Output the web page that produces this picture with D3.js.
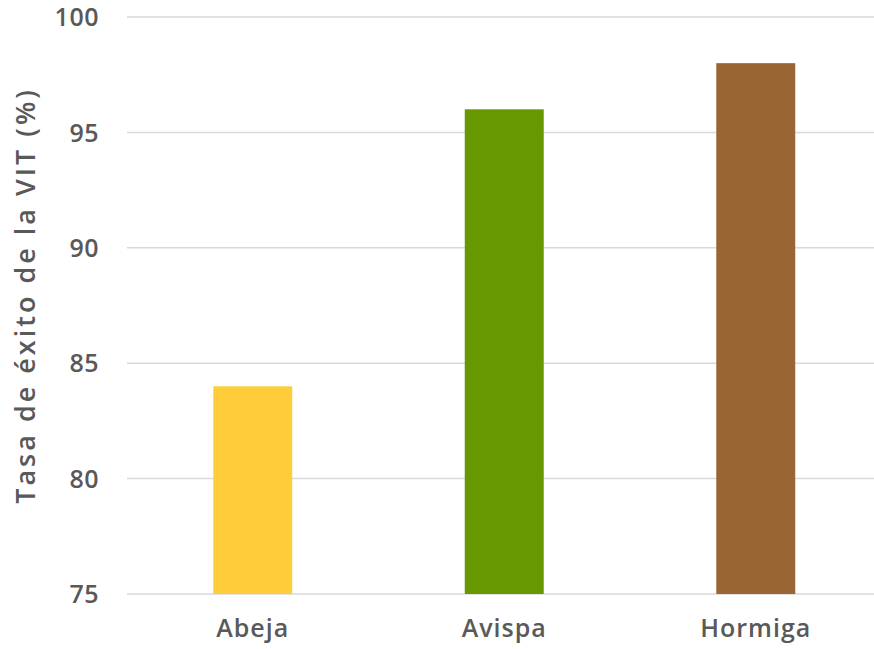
<!DOCTYPE html>
<html><head><meta charset="utf-8">
<script src="https://cdn.jsdelivr.net/npm/d3@7"></script>
<style>body{margin:0;background:#fff;overflow:hidden}</style>
</head><body><svg id="c" width="874" height="649"></svg>
<script>
const categories = ["Abeja", "Avispa", "Hormiga"];
const values = [84, 96, 98];
const colors = ["#FFCD39", "#669900", "#996633"];
const yTicks = [75, 80, 85, 90, 95, 100];
const yTitle = "Tasa de éxito de la VIT (%)";

(function () {
const svg = d3.select("#c");
const mL = 127, mR = 881.5, mT = 17, mB = 594;
const x = d3.scaleBand().domain(categories).range([mL, mR]).paddingInner(0.686).paddingOuter(0.343);
const y = d3.scaleLinear().domain([75, 100]).range([mB, mT]);
const font = "'Open Sans', 'Lato', sans-serif";
const txt = "#595959";

svg.append("g").selectAll("line").data(yTicks).join("line")
  .attr("x1", mL).attr("x2", 874)
  .attr("y1", d => y(d)).attr("y2", d => y(d))
  .attr("stroke", "#d9d9d9").attr("stroke-width", 1.5);

svg.append("g").selectAll("rect").data(categories).join("rect")
  .attr("x", d => x(d)).attr("width", x.bandwidth())
  .attr("y", (d, i) => y(values[i])).attr("height", (d, i) => mB - y(values[i]))
  .attr("fill", (d, i) => colors[i]);

const yAxis = svg.append("g").attr("transform", `translate(${mL},0)`)
  .call(d3.axisLeft(y).tickValues(yTicks).tickSize(0).tickPadding(28));
yAxis.select(".domain").remove();
yAxis.selectAll("text").attr("font-family", font).attr("font-size", 25).attr("font-weight", 600)
  .attr("fill", txt).attr("dy", "0.35em").attr("letter-spacing", 0.5);

const xAxis = svg.append("g").attr("transform", `translate(0,${mB})`)
  .call(d3.axisBottom(x).tickSize(0).tickPadding(25));
xAxis.select(".domain").remove();
xAxis.selectAll("text").attr("font-family", font).attr("font-size", 25).attr("font-weight", 600)
  .attr("fill", txt).attr("letter-spacing", 1);

svg.append("text").attr("transform", `translate(35,${(mT + mB) / 2 - 10}) rotate(-90)`)
  .attr("text-anchor", "middle").attr("font-family", font).attr("font-size", 27).attr("font-weight", 600)
  .attr("letter-spacing", 3)
  .attr("fill", txt).text(yTitle);
})();
</script></body></html>
